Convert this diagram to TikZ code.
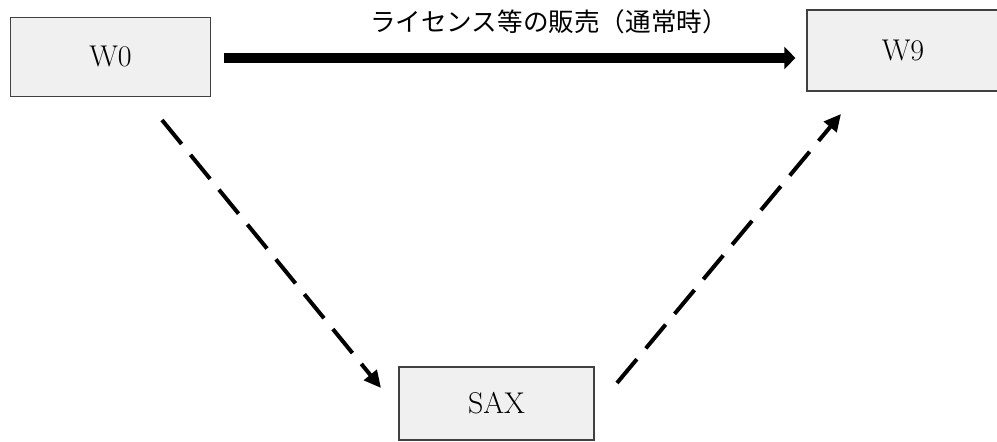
\documentclass[tikz,border=0pt]{standalone}
\usepackage{fontspec}
\newfontfamily\jpfont{Noto Sans CJK JP}
\usetikzlibrary{arrows.meta}
\definecolor{boxfill}{HTML}{F0F0F0}
\definecolor{boxdraw}{HTML}{404040}
\tikzset{
  box/.style={draw=boxdraw, line width=0.6pt, fill=boxfill, rectangle, inner sep=0pt,
    font=\fontsize{15}{18}\selectfont},
  bigarrow/.style={line width=5pt, -{Triangle[length=5.5pt, width=11pt]}},
  dasharrow/.style={line width=2pt, dash pattern=on 15.5pt off 7pt, -{Triangle[length=8.5pt, width=8pt]}},
}
\begin{document}
\begin{tikzpicture}[x=0.5pt, y=-0.5pt]
\useasboundingbox (0,0) rectangle (997,442);
\node[box, minimum width=99.75pt, minimum height=39.5pt] (W0) at (110.5,57) {W0};
\node[box, minimum width=96pt, minimum height=40.5pt] (W9) at (903,50.5) {W9};
\node[box, minimum width=97.5pt, minimum height=36.5pt] (SAX) at (496.5,403.5) {SAX};
\draw[bigarrow, shorten <=6.5pt, shorten >=5.5pt] (W0.east |- 0,58) -- (W9.west |- 0,58);
\node[font=\jpfont\fontsize{12.8}{15}\selectfont] (lbl) at (549,22) {ライセンス等の販売（通常時）};
\coordinate (a1) at (162,120);
\coordinate (a2) at (381,388);
\coordinate (b1) at (617,383);
\coordinate (b2) at (841,114);
\draw[dasharrow] (a1) -- (a2);
\draw[dasharrow] (b1) -- (b2);
\end{tikzpicture}
\end{document}
